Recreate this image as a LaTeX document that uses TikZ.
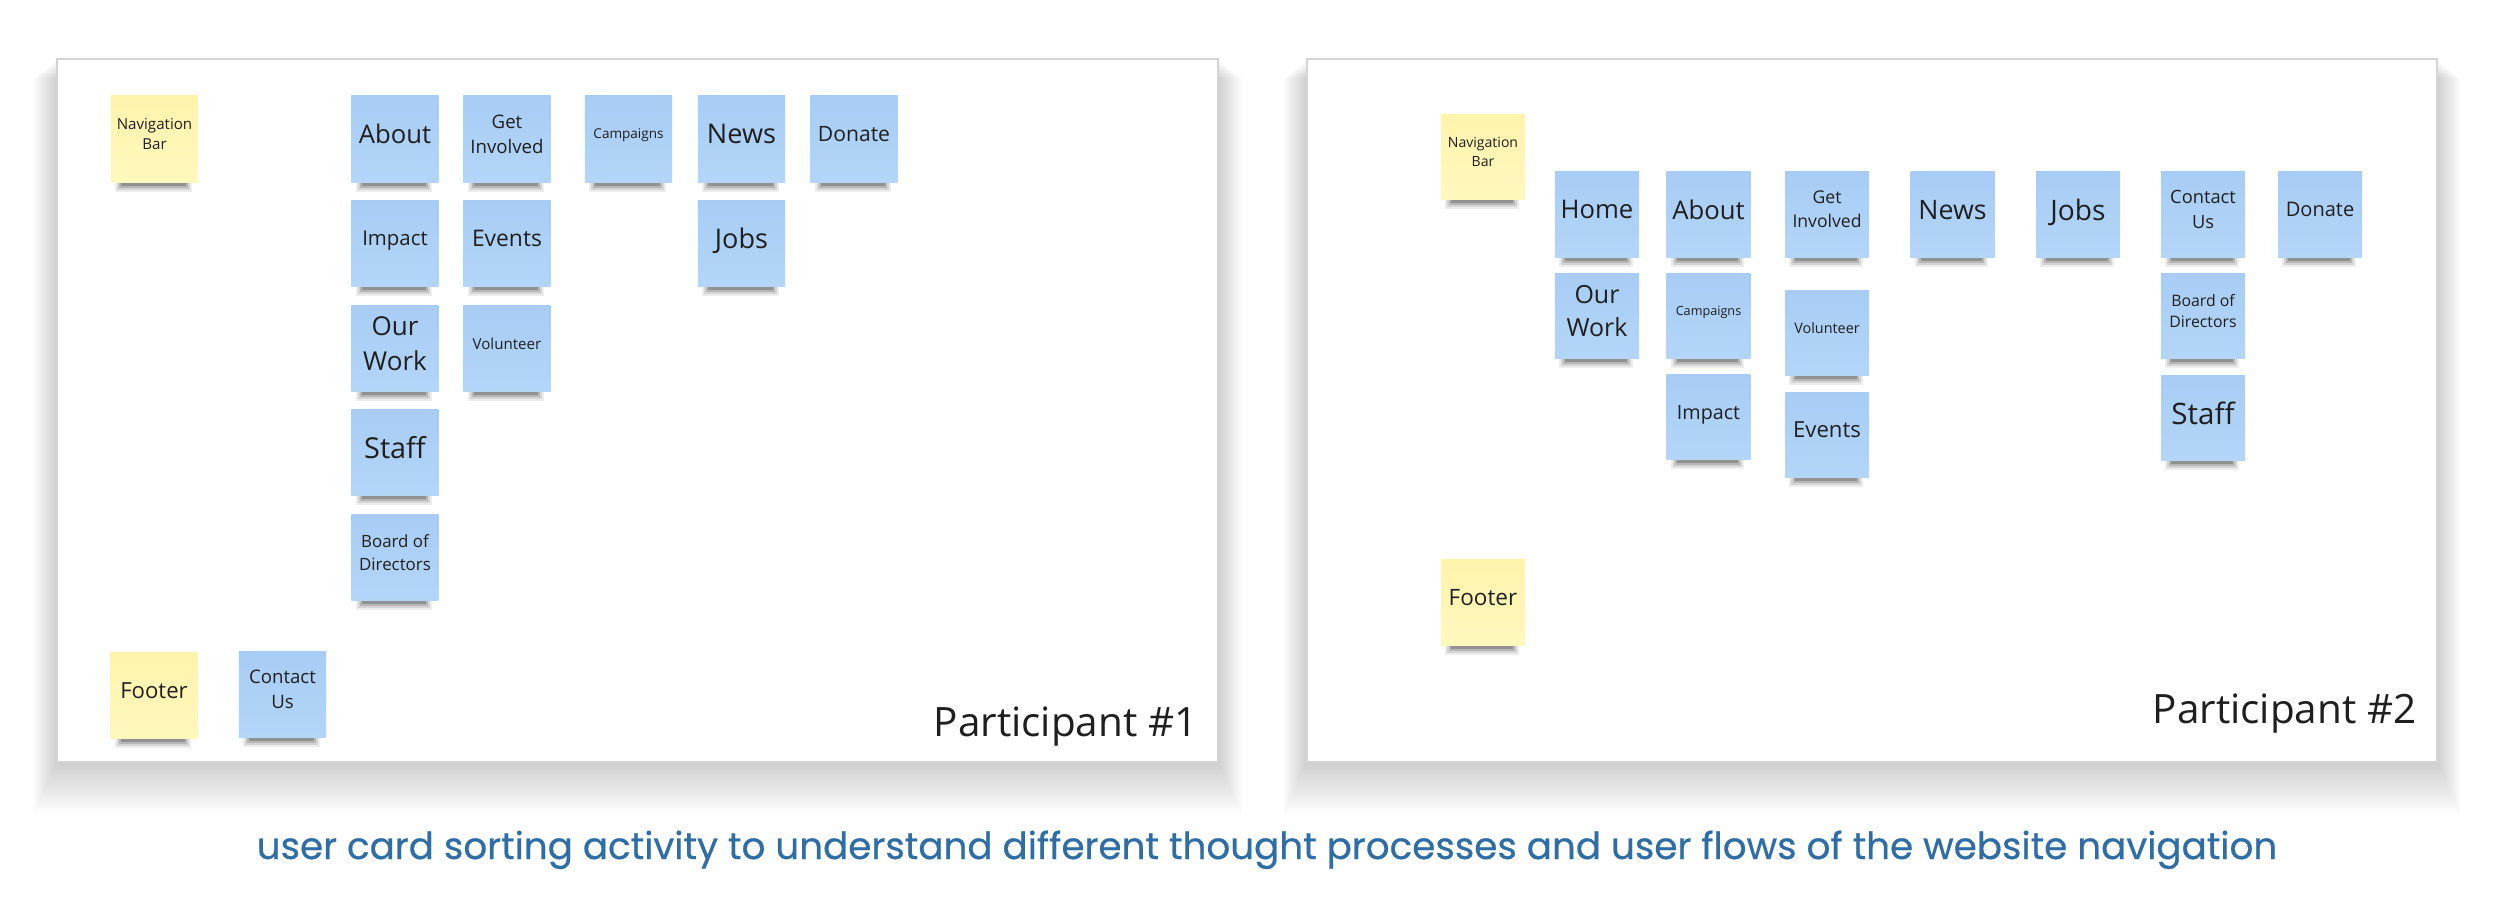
\documentclass[tikz,border=0pt]{standalone}
\usepackage{fontspec}
\setmainfont{Open Sans}
\newfontfamily\captionfont{Poppins}[FakeBold=0.5]
\usetikzlibrary{calc}

\definecolor{cardblue}{HTML}{A8CCF4}
\definecolor{cardbluelt}{HTML}{B3D5F8}
\definecolor{noteyellow}{HTML}{FFF4AC}
\definecolor{noteyellowlt}{HTML}{FFF8BE}
\definecolor{captionblue}{HTML}{2E6DA5}
\newcommand{\fsz}[1]{\fontsize{#1}{\fpeval{1.35*#1}}\selectfont}

\begin{document}
\begin{tikzpicture}[x=0.01cm, y=-0.01cm,
	board/.style={draw=black!17, line width=0.5pt, fill=white},
	card/.style={inner sep=0, align=center, text depth=0.1cm, text=black!88, top color=cardblue, bottom color=cardbluelt},
	note/.style={card, top color=noteyellow, bottom color=noteyellowlt},
	left card/.style={minimum width=0.87cm, minimum height=0.86cm},
	right card/.style={minimum width=0.84cm, minimum height=0.85cm},
	partlabel/.style={anchor=base east, inner sep=0, text=black!88, font=\fsz{11.5}}]
	
	\fill[white] (0,0) rectangle (2500,907);
	\useasboundingbox (0,0) rectangle (2500,907);
	
	\coordinate (b1nw) at (57,59);
	\coordinate (b1se) at (1218,762);
	\coordinate (b2nw) at (1307,59);
	\coordinate (b2se) at (2437,762);
	
	% board shadows
	\foreach \i in {1,...,24} {
		\fill[black, opacity=0.0065] ($(b1nw)+(-1*\i,0.8*\i)$) rectangle ($(b1se)+(1*\i,2.2*\i)$);
		\fill[black, opacity=0.0065] ($(b2nw)+(-1*\i,0.8*\i)$) rectangle ($(b2se)+(1*\i,2.2*\i)$);
	}
	\draw[board] (b1nw) rectangle (b1se);
	\draw[board] (b2nw) rectangle (b2se);
	
	% participant 1
	\node[note, left card, font=\fsz{4.3}] (nav1) at (154.5,139) {Navigation\\Bar};
	\node[card, left card, font=\fsz{7.3}] (about1) at (395,139) {About};
	\node[card, left card, font=\fsz{5.3}] (getinv1) at (507,139) {Get\\Involved};
	\node[card, left card, font=\fsz{3.85}] (camp1) at (628.5,139) {Campaigns};
	\node[card, left card, font=\fsz{7.7}] (news1) at (741.5,139) {News};
	\node[card, left card, font=\fsz{6}] (donate1) at (854,139) {Donate};
	\node[card, left card, font=\fsz{5.8}] (impact1) at (395,243.5) {Impact};
	\node[card, left card, font=\fsz{6.5}] (events1) at (507,243.5) {Events};
	\node[card, left card, font=\fsz{7.7}] (jobs1) at (741.5,243.5) {Jobs};
	\node[card, left card, font=\fsz{7.4}] (ourwork1) at (395,348.5) {Our\\Work};
	\node[card, left card, font=\fsz{4.3}] (volunteer1) at (507,348.5) {Volunteer};
	\node[card, left card, font=\fsz{8.2}] (staff1) at (395,452.5) {Staff};
	\node[card, left card, font=\fsz{4.8}] (directors1) at (395,557.5) {Board of\\Directors};
	\node[note, left card, font=\fsz{6.3}] (footer1) at (154,695.5) {Footer};
	\node[card, left card, font=\fsz{5.3}] (contact1) at (282.5,694.5) {Contact\\Us};
	\node[partlabel] (part1) at ($(b1se)+(-20,-25)$) {Participant \#1};
	
	% participant 2
	\node[note, right card, font=\fsz{4}] (nav2) at (1483,157) {Navigation\\Bar};
	\node[card, right card, font=\fsz{7.3}] (home2) at (1597,214.5) {Home};
	\node[card, right card, font=\fsz{7.3}] (about2) at (1708.5,214.5) {About};
	\node[card, right card, font=\fsz{5}] (getinv2) at (1827,214.5) {Get\\Involved};
	\node[card, right card, font=\fsz{7.6}] (news2) at (1952.5,214.5) {News};
	\node[card, right card, font=\fsz{8}] (jobs2) at (2078,214.5) {Jobs};
	\node[card, right card, font=\fsz{5.2}] (contact2) at (2203,214.5) {Contact\\Us};
	\node[card, right card, font=\fsz{5.7}] (donate2) at (2320,214.5) {Donate};
	\node[card, right card, font=\fsz{7.1}] (ourwork2) at (1597,316) {Our\\Work};
	\node[card, right card, font=\fsz{3.6}] (camp2) at (1708.5,316) {Campaigns};
	\node[card, right card, font=\fsz{4.1}] (volunteer2) at (1827,333) {Volunteer};
	\node[card, right card, font=\fsz{4.5}] (directors2) at (2203,316) {Board of\\Directors};
	\node[card, right card, font=\fsz{5.6}] (impact2) at (1708.5,417) {Impact};
	\node[card, right card, font=\fsz{6.3}] (events2) at (1827,435) {Events};
	\node[card, right card, font=\fsz{8.4}] (staff2) at (2203,418) {Staff};
	\node[note, right card, font=\fsz{6.4}] (footer2) at (1483,602.5) {Footer};
	\node[partlabel] (part2) at ($(b2se)+(-20,-38)$) {Participant \#2};
	
	% card shadows
	\foreach \c in {nav1,about1,getinv1,camp1,news1,donate1,impact1,events1,jobs1,ourwork1,volunteer1,staff1,directors1,footer1,contact1,
		nav2,home2,about2,getinv2,news2,jobs2,contact2,donate2,ourwork2,camp2,volunteer2,directors2,impact2,events2,staff2,footer2} {
		\foreach \k/\op in {1/0.07,2/0.1,3/0.14,4/0.2} {
			\fill[black, opacity=\op] ($(\c.south west)+(3+2*\k,0)$) rectangle ($(\c.south east)+(-5-2*\k,11-2*\k)$);
		}
	}
	
	\node[anchor=base, inner sep=0, text=captionblue, font=\captionfont\fsz{10.6}] (caption) at (1267,859) {user card sorting activity to understand different thought processes and user flows of the website navigation};
\end{tikzpicture}
\end{document}
